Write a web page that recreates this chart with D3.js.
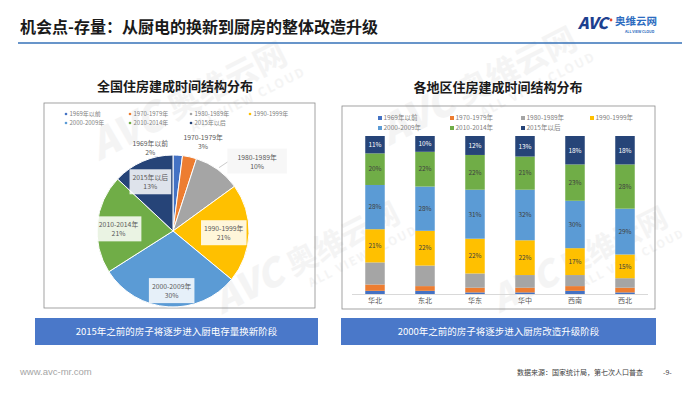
<!DOCTYPE html>
<html>
<head>
<meta charset="utf-8">
<script src="https://cdn.jsdelivr.net/npm/d3@7/dist/d3.min.js"></script>
<style>
  body { margin: 0; background: #fff; }
  svg { display: block; font-family: "Noto Sans CJK SC", "Noto Sans", sans-serif; }
</style>
</head>
<body>
<svg id="chart" width="700" height="394"></svg>
<script>
// ---- data ----
const periods = ["1969年以前", "1970-1979年", "1980-1989年", "1990-1999年", "2000-2009年", "2010-2014年", "2015年以后"];
const periodColors = ["#4472C4", "#ED7D31", "#A5A5A5", "#FFC000", "#5B9BD5", "#70AD47", "#264478"];

// 全国 (%)
const nationalShare = [2, 3, 10, 21, 30, 21, 13];

// 各地区 (%)
const regions = ["华北", "东北", "华东", "华中", "西南", "西北"];
const before1969 = [2, 2, 1, 1, 2, 1];
const y1970s     = [4, 3, 3, 3, 3, 3];
const y1980s     = [14, 13, 9, 8, 7, 6];
const y1990s     = [21, 22, 22, 22, 17, 15];
const y2000s     = [28, 28, 31, 32, 30, 29];
const y2010_2014 = [20, 22, 22, 21, 23, 28];
const after2015  = [11, 10, 12, 13, 18, 18];
const regionSeries = [before1969, y1970s, y1980s, y1990s, y2000s, y2010_2014, after2015];

const pageTitle = "机会点-存量：从厨电的换新到厨房的整体改造升级";
const pieTitle = "全国住房建成时间结构分布";
const barTitle = "各地区住房建成时间结构分布";
const pieNote = "2015年之前的房子将逐步进入厨电存量换新阶段";
const barNote = "2000年之前的房子将逐步进入厨房改造升级阶段";
const source = "数据来源：国家统计局，第七次人口普查";

const svg = d3.select("#chart");

// watermarks (very faint)
function watermark(cx, cy, s) {
  const g = svg.append("g").attr("transform", `translate(${cx},${cy}) rotate(-27) scale(${s})`)
    .attr("fill", "#eeeeee").attr("opacity", 0.6);
  g.append("text").attr("x", -60).attr("y", 0).attr("font-size", 42).attr("font-weight", 900)
    .attr("font-style", "italic").text("AVC");
  g.append("text").attr("x", 30).attr("y", -2).attr("font-size", 34).attr("font-weight", 700).text("奥维云网");
  g.append("text").attr("x", 42).attr("y", 18).attr("font-size", 13).attr("font-weight", 700)
    .attr("letter-spacing", 2).text("ALL VIEW CLOUD");
}
watermark(150, 135, 0.95);
watermark(440, 120, 0.95);
watermark(270, 290, 0.9);
watermark(545, 290, 0.85);

// ---- header ----
svg.append("text").attr("x", 20).attr("y", 33).attr("font-size", 16).attr("font-weight", 700)
  .attr("fill", "#1a1a1a").text(pageTitle);
svg.append("line").attr("x1", 18).attr("x2", 682).attr("y1", 43).attr("y2", 43)
  .attr("stroke", "#3672B8").attr("stroke-width", 1.6);

// logo
const logo = svg.append("g");
logo.append("text").attr("x", 578).attr("y", 29).attr("font-size", 16).attr("font-weight", 900)
  .attr("font-style", "italic").attr("fill", "#1D3F8F").attr("letter-spacing", -0.5).text("AVC");
logo.append("circle").attr("cx", 611).attr("cy", 20).attr("r", 1.4).attr("fill", "#E5462E");
logo.append("text").attr("x", 615).attr("y", 25).attr("font-size", 10.5).attr("font-weight", 700)
  .attr("fill", "#2C6CC0").text("奥维云网");
logo.append("text").attr("x", 625).attr("y", 33).attr("font-size", 3.6).attr("font-weight", 700)
  .attr("fill", "#2C6CC0").text("ALL VIEW CLOUD");

// ---- subtitles & panels ----
svg.append("text").attr("x", 175).attr("y", 91).attr("text-anchor", "middle").attr("font-size", 13)
  .attr("font-weight", 700).attr("fill", "#1a1a1a").text(pieTitle);
svg.append("text").attr("x", 498).attr("y", 92).attr("text-anchor", "middle").attr("font-size", 13)
  .attr("font-weight", 700).attr("fill", "#1a1a1a").text(barTitle);

svg.append("rect").attr("x", 44).attr("y", 103).attr("width", 271).attr("height", 205)
  .attr("fill", "none").attr("stroke", "#8c8c8c").attr("stroke-width", 0.8);
svg.append("rect").attr("x", 342).attr("y", 106).attr("width", 313).attr("height", 203)
  .attr("fill", "none").attr("stroke", "#8c8c8c").attr("stroke-width", 0.8);

// legends
function legend(xs, ys, marker, fs) {
  const g = svg.append("g");
  periods.forEach((p, i) => {
    const row = i < 4 ? 0 : 1, col = i < 4 ? i : i - 4;
    const x = xs[col], y = ys[row];
    if (marker === "dot") {
      g.append("circle").attr("cx", x).attr("cy", y).attr("r", 1.3).attr("fill", periodColors[i]);
    } else {
      g.append("rect").attr("x", x - 2).attr("y", y - 2).attr("width", 4).attr("height", 4).attr("fill", periodColors[i]);
    }
    g.append("text").attr("x", x + 3.5).attr("y", y + 2.2).attr("font-size", fs).attr("fill", "#7f7f7f").text(p);
  });
}
legend([66, 130, 191, 250], [114, 123], "dot", 6);
legend([380, 452, 523, 592], [118, 128], "square", 6.5);

// ---- pie ----
const cx = 173, cy = 231, R = 76;
const pie = d3.pie().sort(null).value(d => d)(nationalShare);
const arc = d3.arc().innerRadius(0).outerRadius(R);
const pg = svg.append("g").attr("transform", `translate(${cx},${cy})`);
pg.selectAll("path").data(pie).join("path")
  .attr("d", arc).attr("fill", (d, i) => periodColors[i])
  .attr("stroke", "#fff").attr("stroke-width", 1);

// label placement: inside at 0.72R, small slices outside with nudges
const labelRadius = [1.1, 1.15, 1.3, 0.72, 0.72, 0.72, 0.72];
const labelNudge = [[-28, 0], [11, -4], [26, 10], [-4, 0], [2, 5], [0, 3], [-1, 1]];
pie.forEach((d, i) => {
  const a = (d.startAngle + d.endAngle) / 2;
  const r = R * labelRadius[i];
  const x = Math.sin(a) * r + labelNudge[i][0];
  const y = -Math.cos(a) * r + labelNudge[i][1];
  const lg = pg.append("g").attr("transform", `translate(${x},${y})`);
  const rect = lg.append("rect");
  const t = lg.append("text").attr("text-anchor", "middle").attr("font-size", 6.8).attr("fill", "#595959");
  t.append("tspan").attr("x", 0).attr("y", -1.5).text(periods[i]);
  t.append("tspan").attr("x", 0).attr("y", 7.5).text(nationalShare[i] + "%");
  const bb = t.node().getBBox();
  const padX = i === 2 ? 10 : 3;
  rect.attr("x", bb.x - padX).attr("y", bb.y - 3).attr("width", bb.width + padX * 2).attr("height", bb.height + 6)
    .attr("fill", "#fff").attr("opacity", labelRadius[i] < 1 ? 0.85 : (i === 2 ? 0.95 : 0));
  if (i === 2) {
    rect.attr("fill", "#f7f7f7");
    const ex = Math.sin(a) * R * 1.03, ey = -Math.cos(a) * R * 1.03;
    pg.append("path").attr("d", `M${ex},${ey}L${x + bb.x - padX},${y + 1}`)
      .attr("stroke", "#a6a6a6").attr("stroke-width", 0.6).attr("fill", "none");
  }
});

// ---- stacked bars ----
const x = d3.scaleBand().domain(regions).range([350, 650]).paddingInner(0.61).paddingOuter(0.305);
const y = d3.scaleLinear().domain([0, 100]).range([294, 136]);
const rows = regions.map((r, j) => {
  const o = { region: r };
  periods.forEach((p, i) => { o[p] = regionSeries[i][j]; });
  return o;
});
const stack = d3.stack().keys(periods)(rows);

const bg = svg.append("g");
const layers = bg.selectAll("g").data(stack).join("g").attr("fill", (d, i) => periodColors[i]);
layers.selectAll("rect").data(d => d).join("rect")
  .attr("x", d => x(d.data.region)).attr("width", x.bandwidth())
  .attr("y", d => y(d[1])).attr("height", d => y(d[0]) - y(d[1]));

stack.forEach((s, i) => {
  if (i < 3) return;
  bg.append("g").selectAll("text").data(s).join("text")
    .attr("x", d => x(d.data.region) + x.bandwidth() / 2)
    .attr("y", d => (y(d[0]) + y(d[1])) / 2 + 2.3)
    .attr("text-anchor", "middle").attr("font-size", 6.5)
    .attr("fill", i === 6 ? "#ffffff" : "#404040")
    .text(d => (d[1] - d[0]) + "%");
});

const xAxis = svg.append("g").attr("transform", "translate(0,294)")
  .call(d3.axisBottom(x).tickSize(0).tickPadding(4));
xAxis.select(".domain").attr("stroke", "#d9d9d9").attr("d", "M352,0.5H648");
xAxis.selectAll("text").attr("font-size", 7).attr("fill", "#595959")
  .attr("font-family", "\"Noto Sans CJK SC\", sans-serif");

// ---- notes ----
[[35, 318, 283, pieNote], [341, 318, 315, barNote]].forEach(([bx, by, bw, txt]) => {
  svg.append("rect").attr("x", bx).attr("y", by).attr("width", bw).attr("height", 27).attr("fill", "#4A78C9");
  svg.append("text").attr("x", bx + bw / 2).attr("y", by + 17).attr("text-anchor", "middle")
    .attr("font-size", 9.5).attr("fill", "#fff").text(txt);
});

// ---- footer ----
svg.append("text").attr("x", 20).attr("y", 375).attr("font-size", 9.5).attr("fill", "#a6a6a6")
  .attr("font-family", "Arial, \"Liberation Sans\", sans-serif").text("www.avc-mr.com");
svg.append("text").attr("x", 517).attr("y", 375).attr("font-size", 7).attr("fill", "#404040").text(source);
svg.append("text").attr("x", 663).attr("y", 375).attr("font-size", 7).attr("fill", "#404040").text("-9-");
</script>
</body>
</html>
